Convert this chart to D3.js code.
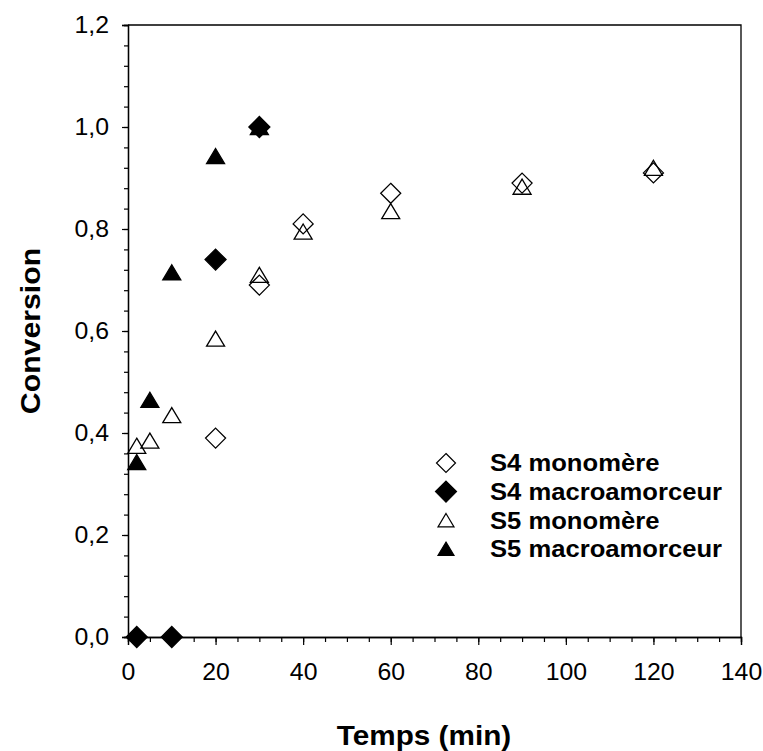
<!DOCTYPE html>
<html>
<head>
<meta charset="utf-8">
<script src="https://cdn.jsdelivr.net/npm/d3@7"></script>
<style>
  body { margin: 0; background: #fff; }
  text { font-family: "Liberation Sans", Arial, sans-serif; fill: #000; }
</style>
</head>
<body>
<script>
// series data (temps in min, conversion)
var s4MonoX = [20, 30, 40, 60, 90, 120];
var s4MonoY = [0.39, 0.69, 0.81, 0.87, 0.89, 0.91];
var s4MacroX = [2, 10, 20, 30];
var s4MacroY = [0, 0, 0.74, 1.0];
var s5MonoX = [2, 5, 10, 20, 30, 40, 60, 90, 120];
var s5MonoY = [0.375, 0.385, 0.435, 0.585, 0.71, 0.795, 0.835, 0.883, 0.92];
var s5MacroX = [2, 5, 10, 20, 30];
var s5MacroY = [0.343, 0.465, 0.715, 0.943, 1.0];

var seriesNames = ["S4 monomère", "S4 macroamorceur", "S5 monomère", "S5 macroamorceur"];
var xTicks = [0, 20, 40, 60, 80, 100, 120, 140];
var yTicks = [0, 0.2, 0.4, 0.6, 0.8, 1.0, 1.2];

var width = 763, height = 751;
var margin = {top: 25, right: 22, bottom: 114, left: 128};
var sx = 1.08; // text in the picture is a bit stretched sideways

var svg = d3.select("body").append("svg")
  .attr("width", width).attr("height", height);

var x = d3.scaleLinear().domain([0, 140]).range([margin.left, width - margin.right]);
var y = d3.scaleLinear().domain([0, 1.2]).range([height - margin.bottom, margin.top]);

var fr = d3.formatLocale({decimal: ",", thousands: " ", grouping: [3], currency: ["", " €"]});
var fmt = fr.format(".1f");

// frame (top and right)
svg.append("path")
  .attr("d", "M" + x(0) + "," + y(1.2) + "H" + x(140) + "V" + y(0))
  .attr("fill", "none").attr("stroke", "#000").attr("stroke-width", 1.3);

// minor ticks
var xAxisMinor = d3.axisBottom(x).tickValues(d3.range(0, 141, 5)).tickSize(5).tickFormat("");
var yAxisMinor = d3.axisLeft(y).tickValues(d3.range(0, 31).map(function(i){return i * 0.04;})).tickSize(4).tickFormat("");

svg.append("g").attr("transform", "translate(0," + y(0) + ")").call(xAxisMinor);
svg.append("g").attr("transform", "translate(" + x(0) + ",0)").call(yAxisMinor);

// major ticks + labels
var xAxis = d3.axisBottom(x).tickValues(xTicks).tickSize(8).tickPadding(19).tickFormat(d3.format("d"));
var yAxis = d3.axisLeft(y).tickValues(yTicks).tickSize(6).tickPadding(13).tickFormat(fmt);

var gx = svg.append("g").attr("transform", "translate(0," + y(0) + ")").call(xAxis);
var gy = svg.append("g").attr("transform", "translate(" + x(0) + ",0)").call(yAxis);

svg.selectAll(".domain").attr("stroke", "#000").attr("stroke-width", 1.3);
svg.selectAll(".tick line").attr("stroke", "#000").attr("stroke-width", 1.2);
svg.selectAll(".tick text").style("font-size", "23px")
  .style("font-family", "'Liberation Sans', Arial, sans-serif").attr("fill", "#000");
gx.selectAll(".tick text").attr("transform", "scale(" + sx + ",1)");
gy.selectAll(".tick text").attr("x", -19 / sx).attr("transform", "scale(" + sx + ",1)");

// axis titles
svg.append("text")
  .attr("transform", "translate(424,745) scale(1.1,1)")
  .attr("text-anchor", "middle")
  .style("font-size", "27px").style("font-weight", "bold")
  .text("Temps (min)");

svg.append("text")
  .attr("transform", "translate(40," + ((y(0) + y(1.2)) / 2) + ") rotate(-90) scale(1.12,1)")
  .attr("text-anchor", "middle")
  .style("font-size", "27px").style("font-weight", "bold")
  .text("Conversion");

// marker shapes
function diamond(h) {
  return "M0," + (-h) + "L" + h + ",0L0," + h + "L" + (-h) + ",0Z";
}
function triangle(w) {
  var hh = w * 0.42;
  return "M0," + (-hh) + "L" + (w / 2) + "," + hh + "L" + (-w / 2) + "," + hh + "Z";
}

var series = [
  {xs: s4MonoX, ys: s4MonoY, shape: diamond(10), legendShape: diamond(9.5), fill: "none"},
  {xs: s4MacroX, ys: s4MacroY, shape: diamond(10.5), legendShape: diamond(10.5), fill: "#000"},
  {xs: s5MonoX, ys: s5MonoY, shape: triangle(18), legendShape: triangle(16), fill: "none"},
  {xs: s5MacroX, ys: s5MacroY, shape: triangle(18), legendShape: triangle(16), fill: "#000"}
];

series.forEach(function(s) {
  var pts = s.xs.map(function(v, i){ return [v, s.ys[i]]; });
  svg.append("g").selectAll("path").data(pts).enter()
    .append("path")
    .attr("d", s.shape)
    .attr("transform", function(d){ return "translate(" + x(d[0]) + "," + y(d[1]) + ")"; })
    .attr("fill", s.fill)
    .attr("stroke", "#000")
    .attr("stroke-width", 1.3);
});

// legend
var legend = svg.append("g").attr("transform", "translate(446,463)");
var rows = legend.selectAll("g").data(series).enter().append("g")
  .attr("transform", function(d, i){ return "translate(0," + (i * 28.6) + ")"; });
rows.append("path")
  .attr("d", function(d){ return d.legendShape; })
  .attr("fill", function(d){ return d.fill; })
  .attr("stroke", "#000").attr("stroke-width", 1.2);
rows.append("text")
  .attr("transform", "translate(44,0) scale(1.09,1)")
  .attr("dy", "0.36em")
  .style("font-size", "23.5px").style("font-weight", "bold")
  .text(function(d, i){ return seriesNames[i]; });
</script>
</body>
</html>
